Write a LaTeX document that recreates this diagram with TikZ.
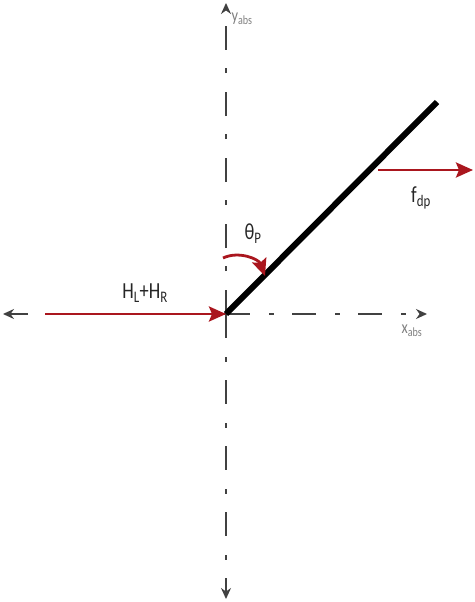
\documentclass[tikz,border=0pt]{standalone}
\usepackage{fontspec}
\setmainfont{Carlito}
\usetikzlibrary{arrows.meta,positioning}
\definecolor{darkred}{RGB}{170,22,30}
\definecolor{axisgray}{RGB}{65,65,65}
\newcommand{\squeeze}[1]{\scalebox{0.8}[1]{#1}}
\tikzstyle{axis} = [draw=axisgray, line width=1.5pt, -{Stealth[length=11pt,width=10pt]}, dash pattern=on 24pt off 19pt on 5pt off 18pt]
\tikzstyle{force} = [draw=darkred, line width=2.8pt, -{Stealth[length=17pt,width=15pt,inset=3pt]}]
\tikzstyle{rod} = [draw=black, line width=6pt]
\tikzstyle{lbl} = [font=\fontsize{23}{23}\selectfont, text=black!85, inner sep=0pt]
\tikzstyle{axlbl} = [font=\fontsize{18}{18}\selectfont, text=black!50, inner sep=0pt]

\begin{document}
\begin{tikzpicture}[x=1pt, y=-1pt]
\useasboundingbox (0,0) rectangle (474,602);
\coordinate (O) at (226,314);
\coordinate (ytop) at (226,3);
\coordinate (ybot) at (226,599);
\coordinate (xleft) at (3,314);
\coordinate (xright) at (427,314);
\coordinate (tip) at (437,102);

% axes
\path [axis] (O) to (ytop);
\path [axis] (O) to (ybot);
\path [axis] (O) to (xright);
\path [axis] (O) to (xleft);

% rod
\path [rod] (O) to (tip);

% forces
\coordinate (htail) at (45,314);
\path [force] (htail) to (O);
\coordinate (fstart) at (378,170);
\coordinate (fend) at (473,170);
\path [force] (fstart) to (fend);
\coordinate (astart) at (223,258);
\coordinate (aend) at (265,276);
\path [force] (astart) to [out=25, in=110] (aend);

% labels
\node [lbl] (hlr) at (145,293) {\squeeze{H\textsubscript{L}+H\textsubscript{R}}};
\node [lbl] (fdp) at (421,198) {\squeeze{f\textsubscript{dp}}};
\node [lbl] (theta) at (253,234) {\squeeze{θ\textsubscript{P}}};
\node [axlbl] (yabs) at (242,19) {\squeeze{y\textsubscript{abs}}};
\node [axlbl] (xabs) at (412,331) {\squeeze{x\textsubscript{abs}}};
\end{tikzpicture}
\end{document}
